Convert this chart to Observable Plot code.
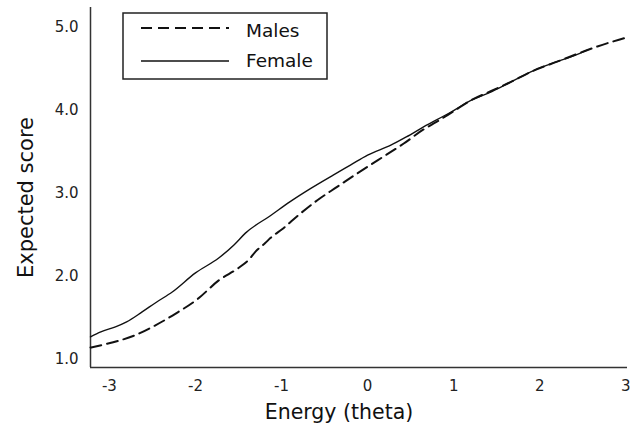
<!DOCTYPE html>
<html>
<head>
<meta charset="utf-8">
<script src="https://cdn.jsdelivr.net/npm/d3@7"></script>
<script src="https://cdn.jsdelivr.net/npm/@observablehq/plot@0.6"></script>
<style>
  html, body { margin: 0; padding: 0; background: #fff; }
  #wrap { position: relative; width: 641px; height: 427px; font-family: "DejaVu Sans", sans-serif; }
  #legend { position: absolute; left: 0; top: 0; pointer-events: none; }
</style>
</head>
<body>
<div id="wrap"></div>
<script>
// ---- data ----
const xTicks = [-3, -2, -1, 0, 1, 2, 3];
const yTicks = [1, 2, 3, 4, 5];
const xLabel = "Energy (theta)";
const yLabel = "Expected score";
const seriesNames = ["Males", "Female"];

const thetaMales = [-3.22, -3.05, -2.9, -2.7, -2.5, -2.23, -1.97, -1.73, -1.5, -1.38, -1.3, -1.19, -1.13, -0.99, -0.8, -0.58, -0.35, -0.12, 0.12, 0.42, 0.65, 0.8, 1.0, 1.2, 1.45, 1.66, 1.93, 2.21, 2.51, 2.67, 2.85, 3.02];
const scoreMales = [1.14, 1.18, 1.22, 1.29, 1.39, 1.55, 1.73, 1.95, 2.10, 2.20, 2.30, 2.40, 2.46, 2.57, 2.74, 2.92, 3.08, 3.24, 3.40, 3.60, 3.77, 3.86, 3.99, 4.12, 4.24, 4.34, 4.48, 4.59, 4.71, 4.77, 4.83, 4.88];

const thetaFemale = [-3.22, -3.1, -2.93, -2.8, -2.62, -2.45, -2.27, -2.0, -1.73, -1.55, -1.42, -1.13, -0.9, -0.66, -0.4, -0.2, 0.0, 0.27, 0.45, 0.65, 0.97, 1.2, 1.45, 1.66, 1.93, 2.21, 2.4, 2.56];
const scoreFemale = [1.27, 1.33, 1.39, 1.45, 1.57, 1.69, 1.81, 2.04, 2.22, 2.38, 2.52, 2.73, 2.90, 3.06, 3.22, 3.34, 3.46, 3.58, 3.68, 3.80, 3.98, 4.12, 4.23, 4.34, 4.48, 4.59, 4.66, 4.73];

const xDomain = [-3.22, 3.02];
const yDomain = [0.9, 5.24];

const males = thetaMales.map((t, i) => ({theta: t, score: scoreMales[i]}));
const female = thetaFemale.map((t, i) => ({theta: t, score: scoreFemale[i]}));

const ink = "#222";
const font = "'DejaVu Sans', sans-serif";

const chart = Plot.plot({
  width: 641,
  height: 427,
  marginLeft: 90,
  marginRight: 14,
  marginTop: 7,
  marginBottom: 60,
  style: { fontFamily: font, color: ink, background: "#fff", overflow: "visible" },
  x: { domain: xDomain },
  y: { domain: yDomain },
  marks: [
    Plot.axisX({ ticks: xTicks, tickSize: 0, tickPadding: 13, tickFormat: d => String(d), label: null, fill: ink }),
    Plot.axisY({ ticks: yTicks, tickSize: 0, tickPadding: 12, tickFormat: d => d.toFixed(1), label: null, fill: ink }),
    Plot.ruleX([xDomain[0]], { stroke: "#333", strokeWidth: 1.5 }),
    Plot.ruleY([yDomain[0]], { stroke: "#333", strokeWidth: 1.5 }),
    Plot.line(female, { x: "theta", y: "score", stroke: "#111", strokeWidth: 1.4, curve: "monotone-x" }),
    Plot.line(males, { x: "theta", y: "score", stroke: "#111", strokeWidth: 2, strokeDasharray: "11,6", curve: "monotone-x" }),
    Plot.text([xLabel], { frameAnchor: "bottom", textAnchor: "middle", lineAnchor: "middle", dx: -20, dy: 45, fontSize: 20.5, fill: "#111" }),
    Plot.text([yLabel], { frameAnchor: "left", textAnchor: "middle", lineAnchor: "middle", rotate: -90, dx: -64, dy: 10, fontSize: 21, fill: "#111" })
  ]
});
document.getElementById("wrap").appendChild(chart);

// tick label size
chart.querySelectorAll('g[aria-label="x-axis tick label"], g[aria-label="y-axis tick label"]').forEach(g => {
  g.setAttribute("font-size", 15);
  g.style.fontSize = "15px";
  g.querySelectorAll("text").forEach(t => { t.style.fontSize = "15px"; });
});

// ---- legend ----
const ns = "http://www.w3.org/2000/svg";
const lg = document.createElementNS(ns, "svg");
lg.setAttribute("id", "legend");
lg.setAttribute("width", 641);
lg.setAttribute("height", 100);
const box = document.createElementNS(ns, "rect");
Object.entries({x: 123, y: 13, width: 204, height: 66, fill: "#fff", stroke: ink, "stroke-width": 1.5}).forEach(([k, v]) => box.setAttribute(k, v));
lg.appendChild(box);
const rows = [{y: 28, dash: "11,6", w: 2}, {y: 61, dash: null, w: 1.4}];
seriesNames.forEach((name, i) => {
  const r = rows[i];
  const ln = document.createElementNS(ns, "line");
  ln.setAttribute("x1", 141); ln.setAttribute("x2", 229);
  ln.setAttribute("y1", r.y); ln.setAttribute("y2", r.y);
  ln.setAttribute("stroke", "#111"); ln.setAttribute("stroke-width", r.w);
  if (r.dash) ln.setAttribute("stroke-dasharray", r.dash);
  lg.appendChild(ln);
  const tx = document.createElementNS(ns, "text");
  tx.setAttribute("x", 246); tx.setAttribute("y", r.y + (i === 0 ? 8.5 : 6));
  tx.setAttribute("font-size", 18.5);
  tx.setAttribute("font-family", font);
  tx.setAttribute("fill", "#111");
  tx.textContent = name;
  lg.appendChild(tx);
});
document.getElementById("wrap").appendChild(lg);
</script>
</body>
</html>
